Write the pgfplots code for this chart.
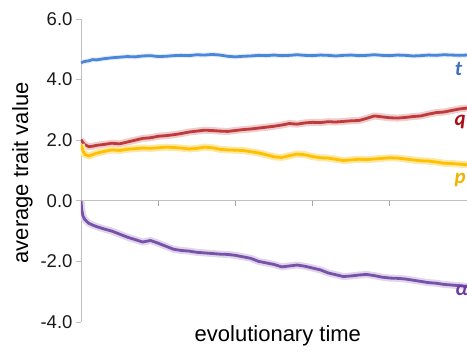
\documentclass[border=0pt]{standalone}
\usepackage{fontspec}
\setmainfont{Liberation Sans}
\newfontfamily\labfont{Carlito}
\usepackage{pgfplots}
\usepackage{pgfplotstable}
\pgfplotsset{compat=1.18}

\definecolor{tline}{HTML}{4A86DA}
\definecolor{tband}{HTML}{D4E2F6}
\definecolor{tlab}{HTML}{3F72B8}
\definecolor{qline}{HTML}{C0393B}
\definecolor{qband}{HTML}{EDCDCD}
\definecolor{qlab}{HTML}{A50F15}
\definecolor{pline}{HTML}{FFC000}
\definecolor{pband}{HTML}{FDE8A8}
\definecolor{plab}{HTML}{F2B200}
\definecolor{aline}{HTML}{7851A9}
\definecolor{aband}{HTML}{E0D6EC}
\definecolor{alab}{HTML}{6A3AA0}

\pgfplotstableread{
x y
0 4.56
0.5 4.58
1 4.60
2 4.62
3 4.66
4 4.65
6 4.69
8 4.72
10 4.74
12 4.76
14 4.75
16 4.78
18 4.79
20 4.76
22 4.77
24 4.79
26 4.80
28 4.79
30 4.82
32 4.81
34 4.83
36 4.81
38 4.77
40 4.75
42 4.77
44 4.78
46 4.80
48 4.79
50 4.81
52 4.79
54 4.80
56 4.82
58 4.80
60 4.79
62 4.81
64 4.80
66 4.78
68 4.80
70 4.81
72 4.79
74 4.80
76 4.82
78 4.80
80 4.79
82 4.81
84 4.80
86 4.78
88 4.79
90 4.81
92 4.80
94 4.82
96 4.81
98 4.80
100 4.81
}\tdata

\pgfplotstableread{
x y
0 2.02
0.5 1.92
1 1.85
2 1.79
3 1.80
4 1.83
6 1.86
8 1.90
10 1.88
12 1.94
14 2.00
16 2.06
18 2.08
20 2.13
22 2.15
24 2.18
26 2.22
28 2.27
30 2.30
32 2.33
34 2.32
36 2.30
38 2.29
40 2.32
42 2.35
44 2.37
46 2.40
48 2.43
50 2.46
52 2.50
54 2.55
56 2.53
58 2.57
60 2.59
62 2.58
64 2.61
66 2.60
68 2.62
70 2.64
72 2.65
74 2.72
76 2.80
78 2.77
80 2.74
82 2.73
84 2.75
86 2.78
88 2.80
90 2.86
92 2.91
94 2.93
96 2.98
98 3.03
100 3.06
}\qdata

\pgfplotstableread{
x y
0 1.86
0.5 1.65
1 1.53
2 1.48
3 1.52
4 1.57
6 1.63
8 1.68
10 1.66
12 1.70
14 1.72
16 1.74
18 1.73
20 1.75
22 1.77
24 1.76
26 1.74
28 1.71
30 1.73
32 1.77
34 1.75
36 1.70
38 1.68
40 1.67
42 1.66
44 1.62
46 1.58
48 1.52
50 1.45
52 1.43
54 1.49
56 1.54
58 1.52
60 1.46
62 1.42
64 1.41
66 1.37
68 1.33
70 1.35
72 1.37
74 1.36
76 1.38
78 1.40
80 1.42
82 1.41
84 1.38
86 1.35
88 1.32
90 1.31
92 1.28
94 1.24
96 1.23
98 1.21
100 1.19
}\pdata

\pgfplotstableread{
x y
0 0.0
0.2 -0.30
0.5 -0.50
1 -0.62
2 -0.74
3 -0.80
4 -0.85
6 -0.93
8 -1.00
10 -1.10
12 -1.20
14 -1.28
16 -1.36
18 -1.31
20 -1.40
22 -1.50
24 -1.60
26 -1.64
28 -1.66
30 -1.70
32 -1.72
34 -1.74
36 -1.76
38 -1.77
40 -1.80
42 -1.85
44 -1.90
46 -2.00
48 -2.05
50 -2.10
52 -2.18
54 -2.15
56 -2.12
58 -2.16
60 -2.22
62 -2.28
64 -2.38
66 -2.44
68 -2.50
70 -2.48
72 -2.45
74 -2.43
76 -2.47
78 -2.52
80 -2.55
82 -2.56
84 -2.58
86 -2.62
88 -2.66
90 -2.70
92 -2.72
94 -2.76
96 -2.78
98 -2.80
100 -2.83
}\adata

\begin{document}
\begin{tikzpicture}
\begin{axis}[
  name=ax,
  scale only axis,
  width=386pt, height=303pt,
  xmin=0, xmax=100, ymin=-4, ymax=6,
  axis x line=center, axis y line=left,
  axis line style={draw=black!25, line width=0.8pt, -},
  xtick={20,40,60,80,100}, xticklabels={},
  ytick={-4,-2,0,2,4,6},
  yticklabel style={/pgf/number format/.cd, fixed, fixed zerofill, precision=1, assume math mode=true},
  tick label style={font=\fontsize{18.5}{20}\selectfont, color=black!90},
  tick style={draw=black!25, line width=0.8pt},
  major tick length=5pt, tick align=outside, xtick align=outside,
  xlabel={evolutionary time}, ylabel={average trait value},
  label style={font=\fontsize{22}{24}\selectfont, inner sep=0pt},
  xlabel style={at={(axis description cs:0.51,-0.01)}, anchor=north},
  ylabel style={at={(axis description cs:-0.1244,0.492)}, anchor=south},
  clip mode=individual,
  line join=round,
]
\addplot[tband, line width=5pt, opacity=0.6] table {\tdata};
\addplot[tline, line width=2.8pt] table {\tdata};
\addplot[qband, line width=7pt] table {\qdata};
\addplot[qline, line width=2.8pt] table {\qdata};
\addplot[pband, line width=7pt] table {\pdata};
\addplot[pline, line width=2.8pt] table {\pdata};
\addplot[aband, line width=7pt] table {\adata};
\addplot[aline, line width=2.8pt] table {\adata};

\addplot[black!35, line width=1pt, forget plot] coordinates {(20,0) (20,-0.18)};
\addplot[black!35, line width=1pt, forget plot] coordinates {(40,0) (40,-0.18)};
\addplot[black!35, line width=1pt, forget plot] coordinates {(60,0) (60,-0.18)};
\addplot[black!35, line width=1pt, forget plot] coordinates {(80,0) (80,-0.18)};

\node[anchor=base, text=tlab, font=\labfont\bfseries\itshape\fontsize{21}{22}\selectfont] at (axis cs:97.8,4.14) {t};
\node[anchor=base, text=qlab, font=\labfont\bfseries\itshape\fontsize{21}{22}\selectfont] at (axis cs:98.2,2.48) {q};
\node[anchor=base, text=plab, font=\labfont\bfseries\itshape\fontsize{21}{22}\selectfont] at (axis cs:98.2,0.56) {p};
\node[anchor=base, text=alab, font=\labfont\bfseries\itshape\fontsize{21}{22}\selectfont] at (axis cs:98.6,-3.13) {α};
\end{axis}
\pgfresetboundingbox
\path[use as bounding box] ([xshift=-81pt,yshift=-30pt]ax.south west) rectangle ([yshift=19pt]ax.north east);
\end{tikzpicture}
\end{document}
